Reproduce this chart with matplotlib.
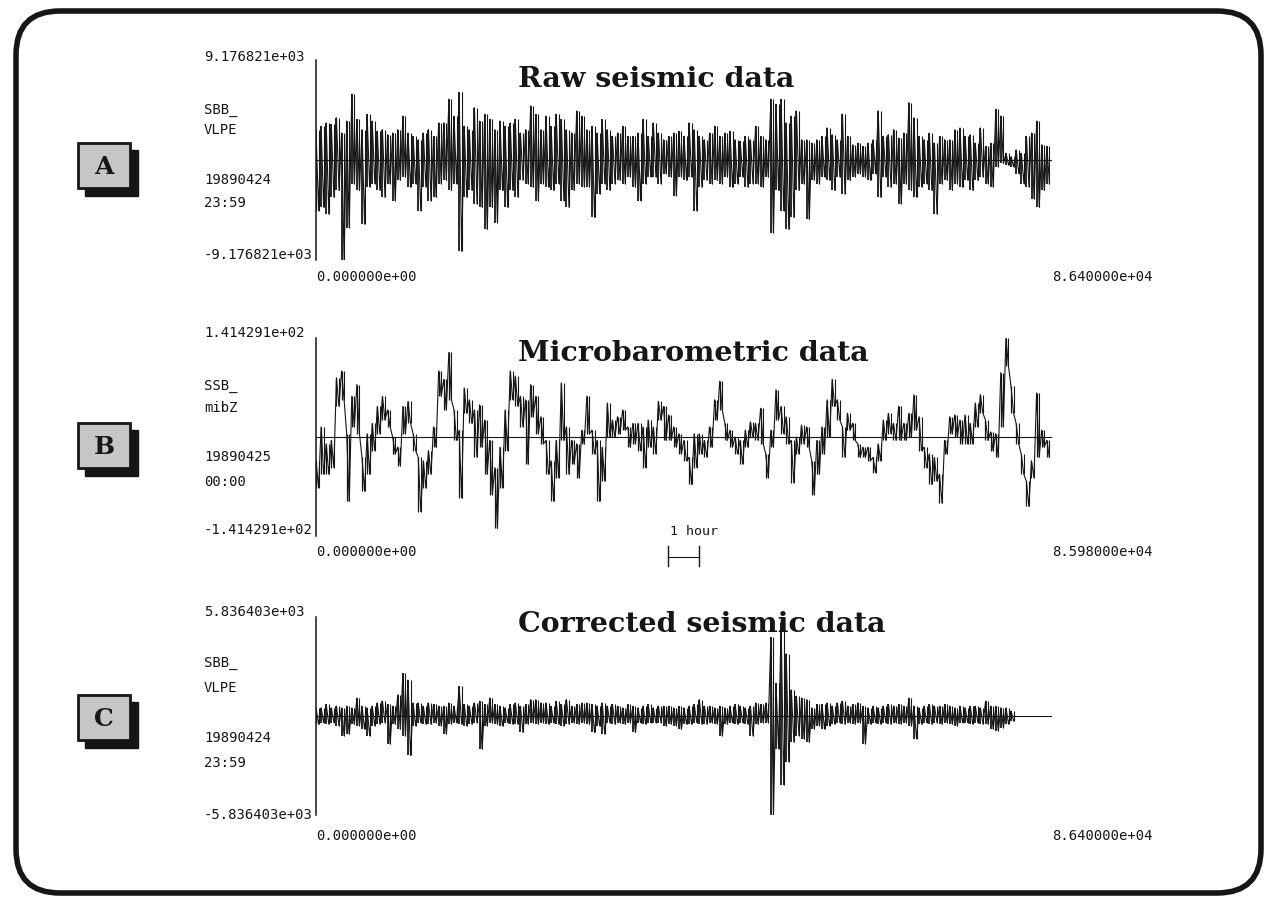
import numpy as np
import matplotlib
matplotlib.use("Agg")
import matplotlib.pyplot as plt
from matplotlib.patches import FancyBboxPatch, Rectangle
from matplotlib.transforms import blended_transform_factory

# ---- data (per-bin max / min of each trace) ----
titles = ["Raw seismic data", "Microbarometric data", "Corrected seismic data"]
panel_letters = ["A", "B", "C"]
station = [["SBB_", "VLPE"], ["SSB_", "mibZ"], ["SBB_", "VLPE"]]
start_date = [["19890424", "23:59"], ["19890425", "00:00"], ["19890424", "23:59"]]
y_limits = [9.176821e+03, 1.414291e+02, 5.836403e+03]
x_limits = [8.640000e+04, 8.598000e+04, 8.640000e+04]
bin_step = [600, 597, 600]  # seconds per envelope bin

raw_hi = [2790, 3100, 3410, 3260, 3880, 2480, 3570, 6050, 3720, 2790,
          4190, 3570, 2640, 2790, 2330, 2480, 2790, 4030, 2480, 2170,
          1860, 2480, 2790, 2170, 3410, 3410, 5580, 4030, 6200, 3100,
          2790, 4810, 3570, 4190, 3720, 2790, 3570, 3100, 3410, 3720,
          2480, 2790, 4960, 4190, 2790, 4030, 3100, 4190, 3720, 2790,
          2480, 4500, 4030, 2790, 3100, 2480, 3720, 2790, 2170, 2480,
          3100, 2170, 2170, 2480, 3720, 2170, 3410, 2480,
          1860, 2170, 2480, 2640, 2170, 3410, 2790, 2170, 1860, 2480,
          3100, 2170, 2480, 2640, 1860, 1700, 2170, 1860, 3100, 2170,
          1860, 5580, 5120, 5580, 3410, 4030, 4500, 1860, 1860, 1550,
          1860, 2170, 2950, 2330, 1860, 4190, 2170, 1400, 1550, 1240,
          1550, 1860, 4500, 2170, 2330, 2790, 2020, 2480, 5270, 3880,
          2170, 1860, 2480, 1550, 2170, 1860, 1860, 2790, 2950, 2170,
          2330, 1550, 2950, 1240, 1550, 4650, 4030, 620, 310, 930,
          620, 2170, 2480, 3570, 1400, 1240]
raw_lo = [-4650, -4340, -4960, -3410, -2790, -9177, -6200, -2170, -2790, -5890,
          -2480, -2170, -2790, -3410, -2170, -3720, -1860, -1550, -2480, -2170,
          -4650, -2480, -3720, -3410, -2170, -1860, -2790, -2170, -8370, -3410,
          -2790, -4030, -4340, -6360, -4340, -5740, -2790, -4340, -2790, -3410,
          -1860, -2170, -2480, -3720, -2170, -2480, -2790, -2170, -3720, -4340,
          -2790, -2170, -2480, -2480, -5270, -3100, -2170, -2790, -2170, -1860,
          -2170, -1550, -2480, -3720, -2170, -1550, -1550, -2170,
          -1240, -1550, -3260, -1550, -1860, -1550, -4650, -2480, -1860, -2170,
          -1860, -2170, -1550, -2480, -2170, -1550, -2480, -2170, -2170, -2480,
          -1550, -6670, -2790, -4650, -6360, -5270, -2790, -2170, -5430, -1860,
          -2170, -1550, -1860, -2790, -1550, -3100, -1860, -1550, -1240, -1550,
          -1860, -1240, -3410, -1550, -2480, -2170, -4030, -2170, -2790, -3410,
          -2480, -2170, -2790, -4960, -2170, -1860, -2790, -2170, -2480, -1860,
          -2790, -1860, -1550, -2170, -2480, -620, -310, -470, -620, -1240,
          -2170, -2480, -3570, -4340, -2790, -2170]

baro_hi = [-33.9, 14.5, -9.7, -4.8, 84.7, 94.4, 4.8, 58.1, 75.0, -29.0,
           4.8, 19.4, 43.6, 58.1, 38.7, 0.0, -14.5, 43.6, 50.8, 4.8,
           -29.0, -33.9, -19.4, 14.5, 94.4, 82.3, 121.0, 38.7, 9.7, 70.2,
           53.2, 38.7, 46.0, 24.2, -4.8, -43.6, -14.5, 38.7, 94.4, 87.1,
           58.1, 53.2, 75.0, 58.1, 29.0, -4.8, -33.9, -4.8, 77.4, 14.5,
           -4.8, -9.7, 9.7, 58.1, 9.7, -4.8, -14.5, 48.4, 24.2, 29.0,
           38.7, 14.5, 19.4, 19.4, 14.5, 24.2, 14.5, 50.8, 43.6, 31.5,
           14.5, 4.8, -4.8, -29.0, 4.8, 4.8, -4.8, 14.5, 53.2, 79.9,
           19.4, 9.7, 0.0, -4.8, 9.7, 21.8, 19.4, 41.1, -24.2, 9.7,
           67.8, 43.6, 29.0, -4.8, 0.0, 16.9, 14.5, -33.9, -4.8, 14.5,
           53.2, 82.3, 53.2, 14.5, 33.9, 19.4, -9.7, -14.5, -14.5, -29.0,
           -9.7, 24.2, 33.9, 19.4, 43.6, 19.4, 33.9, 60.5, 29.0, -14.5,
           -24.2, -29.0, -53.2, -4.8, 29.0, 31.5, 24.2, 31.5, 19.4, 48.4,
           60.5, 24.2, 7.3, 4.8, 92.0, 141.4, 72.6, 19.4, -24.2, -62.9,
           -33.9, 62.9, 9.7, -4.8]
baro_lo = [-72.6, -53.2, -53.2, -43.6, 43.6, 53.2, -92.0, 14.5, 4.8, -77.4,
           -53.2, -19.4, 4.8, 24.2, 14.5, -24.2, -41.1, 4.8, 19.4, -19.4,
           -106.5, -72.6, -53.2, -14.5, 58.1, 38.7, 53.2, -4.8, -87.1, 33.9,
           19.4, -29.0, -14.5, -53.2, -82.3, -130.7, -72.6, -19.4, 53.2, 43.6,
           14.5, -38.7, 29.0, 4.8, -9.7, -53.2, -92.0, -58.1, -4.8, -53.2,
           -38.7, -58.1, -9.7, 4.8, -24.2, -92.0, -62.9, 0.0, 0.0, 4.8,
           9.7, -14.5, -9.7, -19.4, -43.6, -14.5, -24.2, 24.2, -4.8, -4.8,
           -14.5, -24.2, -33.9, -67.8, -43.6, -24.2, -29.0, -14.5, 24.2, 38.7,
           -4.8, -14.5, -24.2, -38.7, -14.5, 0.0, -4.8, -9.7, -58.1, -14.5,
           24.2, 4.8, -9.7, -65.3, -24.2, -9.7, -14.5, -82.3, -53.2, -24.2,
           0.0, 43.6, 24.2, -29.0, 9.7, -4.8, -29.0, -29.0, -33.9, -50.8,
           -33.9, -4.8, 4.8, -4.8, -4.8, -4.8, 0.0, 9.7, -19.4, -43.6,
           -67.8, -62.9, -94.4, -24.2, 4.8, 0.0, -9.7, -9.7, -9.7, 14.5,
           33.9, -4.8, -19.4, -29.0, 14.5, 101.6, 33.9, -9.7, -53.2, -99.2,
           -58.1, -29.0, -14.5, -29.0]

corr_hi = [480, 480, 680, 480, 580, 480, 580, 480, 1060, 580,
           480, 580, 770, 870, 680, 580, 1250, 2510, 2120, 770,
           770, 580, 770, 680, 580, 580, 770, 580, 1740, 680,
           580, 770, 870, 680, 1060, 680, 580, 480, 680, 770,
           580, 680, 970, 970, 770, 770, 580, 870, 680, 970,
           580, 680, 770, 770, 680, 580, 770, 580, 680, 580,
           480, 680, 580, 480, 580, 680, 480, 580,
           580, 580, 480, 580, 480, 580, 680, 970, 580, 580,
           480, 580, 480, 580, 680, 580, 480, 580, 770, 680,
           770, 4630, 1930, 5500, 3670, 1540, 1160, 1060, 970, 480,
           680, 680, 770, 580, 770, 870, 580, 680, 770, 580,
           480, 580, 480, 580, 680, 580, 680, 580, 1060, 580,
           480, 580, 680, 580, 580, 680, 580, 480, 580, 480,
           580, 580, 480, 870, 580, 580, 480, 480, 290]
corr_lo = [-480, -390, -480, -390, -580, -1160, -1060, -480, -580, -770,
           -1160, -580, -480, -390, -1640, -480, -770, -1160, -2320, -580,
           -390, -480, -480, -390, -580, -1060, -480, -390, -480, -580,
           -480, -390, -1930, -580, -390, -480, -580, -390, -480, -480,
           -970, -480, -390, -480, -390, -480, -390, -480, -580, -480,
           -390, -480, -390, -480, -970, -580, -1060, -390, -480, -390,
           -480, -390, -970, -390, -480, -390, -390, -390,
           -580, -480, -580, -770, -480, -480, -390, -480, -480, -390,
           -480, -1160, -480, -390, -480, -390, -480, -1160, -480, -390,
           -390, -5836, -1930, -4050, -2700, -1540, -1160, -1350, -1540, -770,
           -580, -770, -580, -480, -390, -480, -390, -480, -390, -1640,
           -480, -390, -480, -390, -480, -390, -480, -390, -580, -1350,
           -480, -390, -480, -390, -480, -390, -480, -580, -390, -390,
           -480, -390, -480, -480, -770, -870, -680, -480, -290]

traces = [(raw_hi, raw_lo), (baro_hi, baro_lo), (corr_hi, corr_lo)]
bar_width = [1.3, 0.9, 1.3]

# ---- layout, in pixels of the 1265x897 scan ----
W, H = 1265, 897
axis_rows = [(60, 260), (338, 536), (617, 815)]
axis_left, axis_right = 316, 1052
title_y = [87, 361, 632]
label_rows = [[57, 110, 130, 180, 203, 255],
              [333, 386, 408, 457, 482, 530],
              [612, 663, 688, 738, 763, 815]]
xlabel_y = [277, 552, 836]
box_top = [143, 423, 695]

def fx(x):
  return x / W

def fy(y):
  return 1 - y / H

mono = "DejaVu Sans Mono"
ink = "#161616"

fig = plt.figure(figsize=(W / 100, H / 100), dpi=100)

# background axes in pixel units for the frame and the letter boxes
bg = fig.add_axes([0, 0, 1, 1])
bg.set_xlim(0, W)
bg.set_ylim(H, 0)
bg.axis("off")
bg.add_patch(FancyBboxPatch((16, 11), 1245, 882, boxstyle="round,pad=0,rounding_size=44",
                            fill=False, edgecolor=ink, linewidth=4))

for k in range(3):
  top, bottom = axis_rows[k]
  ax = fig.add_axes([fx(axis_left), fy(bottom), fx(axis_right - axis_left), (bottom - top) / H])
  hi, lo = traces[k]
  dt = bin_step[k]
  t = np.arange(len(hi)) * dt
  xs = np.column_stack([t, t + dt / 2]).ravel()
  ys = np.column_stack([hi, lo]).ravel()
  ax.vlines(t, lo, hi, color=ink, linewidth=bar_width[k])
  ax.vlines(t + dt / 2, lo, hi, color=ink, linewidth=0.8)
  ax.plot(xs, ys, color=ink, linewidth=0.8)
  ax.plot([0, x_limits[k]], [0, 0], color=ink, linewidth=0.8)
  ax.set_xlim(0, x_limits[k])
  ax.set_ylim(-y_limits[k], y_limits[k])
  for s in ["top", "right", "bottom"]:
    ax.spines[s].set_visible(False)
  ax.spines["left"].set_linewidth(1.1)
  ax.spines["left"].set_color(ink)
  ax.set_xticks([])
  ax.set_yticks([])
  ax.patch.set_alpha(0)

  fig.text(fx(518), fy(title_y[k]), titles[k], fontfamily="DejaVu Serif", fontweight="bold",
           fontsize=20.5, va="baseline", color=ink)

  ly = label_rows[k]
  left_labels = ["%.6e" % y_limits[k], station[k][0], station[k][1],
                 start_date[k][0], start_date[k][1], "%.6e" % -y_limits[k]]
  for y, s in zip(ly, left_labels):
    fig.text(fx(204), fy(y), s, fontfamily=mono, fontsize=10, va="center", color=ink)
  fig.text(fx(316), fy(xlabel_y[k]), "%.6e" % 0.0, fontfamily=mono, fontsize=10, va="center", color=ink)
  fig.text(fx(1052), fy(xlabel_y[k]), "%.6e" % x_limits[k], fontfamily=mono, fontsize=10, va="center", color=ink)

  # letter box with drop shadow
  bt = box_top[k]
  bg.add_patch(Rectangle((85, bt + 7), 53, 46, facecolor=ink, edgecolor=ink))
  bg.add_patch(Rectangle((78, bt), 52, 45, facecolor="#c6c6c6", edgecolor=ink, linewidth=2))
  bg.text(104, bt + 24, panel_letters[k], fontfamily="DejaVu Serif", fontweight="bold",
          fontsize=18, ha="center", va="center", color=ink)

  if k == 1:
    # 1 hour scale bar under the microbarometric trace
    tr = blended_transform_factory(ax.transData, ax.transAxes)
    x0 = 41100
    ax.plot([x0, x0 + 3600], [-0.105, -0.105], color=ink, linewidth=0.8, transform=tr, clip_on=False)
    ax.plot([x0, x0], [-0.05, -0.15], color=ink, linewidth=1, transform=tr, clip_on=False)
    ax.plot([x0 + 3600, x0 + 3600], [-0.05, -0.15], color=ink, linewidth=1, transform=tr, clip_on=False)
    ax.text(x0 + 200, 0.055, "1 hour", fontfamily=mono, fontsize=9.5, transform=tr, va="top", color=ink)

fig.savefig("out.png", dpi=100)
